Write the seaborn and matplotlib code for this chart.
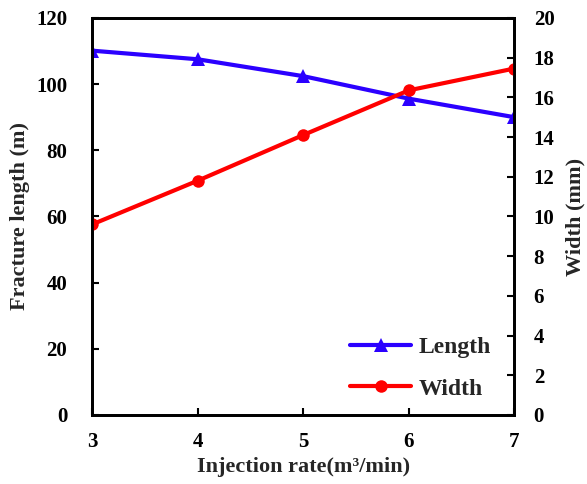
import matplotlib
matplotlib.use("Agg")
import matplotlib.pyplot as plt
import seaborn as sns
import pandas as pd

rate = [3, 4, 5, 6, 7]
length = [110.1, 107.5, 102.4, 95.6, 90.0]
width = [9.6, 11.8, 14.1, 16.35, 17.45]

sns.set_theme(style="white")
plt.rcParams['font.family'] = ['Liberation Serif', 'DejaVu Serif']
plt.rcParams['font.weight'] = 'bold'

df = pd.DataFrame({"rate": rate, "length": length, "width": width})

fig = plt.figure(figsize=(5.87, 4.84), dpi=100)
ax = fig.add_axes([0.157, 0.1426, 0.719, 0.8204])
ax2 = ax.twinx()

sns.lineplot(data=df, x="rate", y="length", ax=ax, color="#2B00FF", marker="^",
             markersize=10, linewidth=3, markeredgewidth=0, label="Length", legend=False)
sns.lineplot(data=df, x="rate", y="width", ax=ax2, color="#FF0000", marker="o",
             markersize=9, linewidth=3, markeredgewidth=0, label="Width", legend=False)

ax.set_xlim(3, 7)
ax.set_ylim(0, 120)
ax2.set_ylim(0, 20)
ax.set_xticks([3, 4, 5, 6, 7])
ax.set_yticks(range(0, 121, 20))
ax2.set_yticks(range(0, 21, 2))

ax.set_xlabel("Injection rate(m³/min)", fontsize=16, fontweight='bold', labelpad=4)
ax.set_ylabel("Fracture length (m)", fontsize=16, fontweight='bold', labelpad=4)
ax2.set_ylabel("Width (mm)", fontsize=16, fontweight='bold', labelpad=8)

for a in (ax, ax2):
    a.tick_params(direction='in', length=5, width=1.5, labelsize=15, colors='black')
    for lab in a.get_xticklabels() + a.get_yticklabels():
        lab.set_fontweight('bold')
    for s in a.spines.values():
        s.set_linewidth(2)
        s.set_color('black')
ax.tick_params(axis='y', left=True, right=False, pad=18)
ax.tick_params(axis='x', bottom=True, pad=12)
ax2.tick_params(axis='y', right=True, pad=14)

h1, l1 = ax.get_legend_handles_labels()
h2, l2 = ax2.get_legend_handles_labels()
leg = ax.legend(h1 + h2, l1 + l2, loc='lower right', bbox_to_anchor=(0.995, -0.015),
                frameon=False, fontsize=17, handlelength=2.6, handletextpad=0.3,
                labelspacing=0.85)
for t in leg.get_texts():
    t.set_fontweight('bold')

fig.savefig("out.png", dpi=100)
